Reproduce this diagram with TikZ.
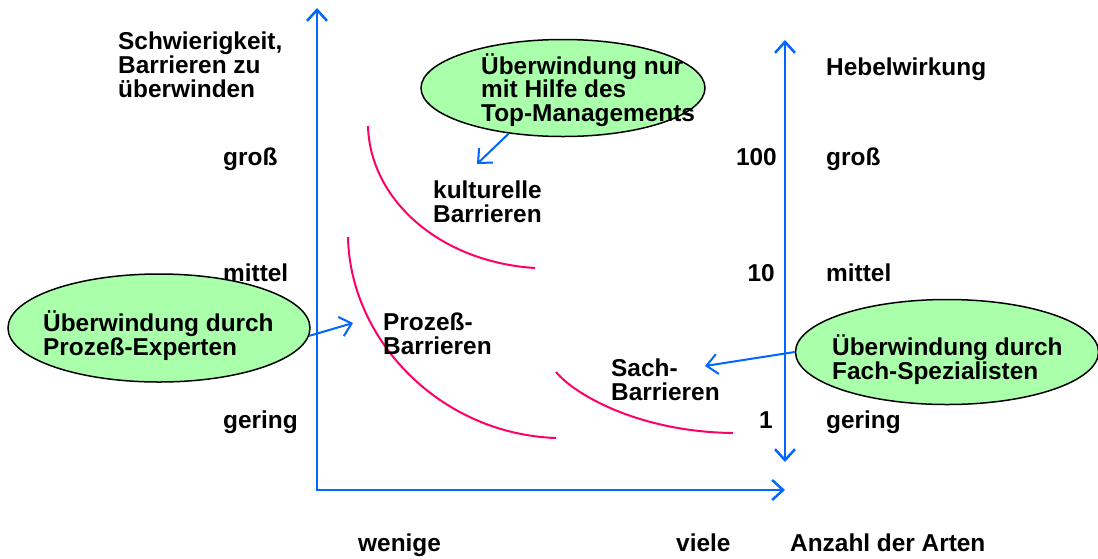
\documentclass[tikz,border=0pt]{standalone}
\usepackage{fontspec}
\setmainfont{Liberation Sans}
\usetikzlibrary{arrows.meta,shapes.geometric}
\definecolor{achsblau}{RGB}{0,102,255}
\definecolor{barrot}{RGB}{255,0,102}
\definecolor{hellgruen}{RGB}{170,255,170}

\begin{document}
\begin{tikzpicture}[x=1pt, y=-1pt, >={Straight Barb[length=11pt,width=20pt]},
    font=\fontsize{24.4}{23.8}\selectfont\bfseries,
    txt/.style={inner sep=0pt, align=left, anchor=west},
    lab/.style={inner sep=0pt, anchor=west, text height=17.5pt, text depth=5pt, yshift=-2pt},
    zahl/.style={lab, anchor=east},
    blase/.style={ellipse, draw=black, line width=1.5pt, fill=hellgruen, inner sep=0pt},
    achse/.style={achsblau, line width=2.5pt},
    kurve/.style={barrot, line width=2pt},
    pfeil/.style={->, achsblau, line width=2pt}]
    \useasboundingbox (0,0) rectangle (1098,558);

    % Achsen
    \coordinate (yoben) at (317,8);
    \coordinate (ursprung) at (317,490);
    \coordinate (xrechts) at (785,490);
    \coordinate (roben) at (785,40);
    \coordinate (runten) at (785,462);
    \draw[achse, <->] (yoben) -- (ursprung) -- (xrechts);
    \draw[achse, <->] (roben) -- (runten);

    % Beschriftung links
    \node[txt] (schwer) at (118,65) {Schwierigkeit,\\Barrieren zu\\überwinden};
    \node[lab] (lgross) at (223,157) {groß};
    \node[lab] (lmittel) at (223,273) {mittel};
    \node[lab] (lgering) at (223,420) {gering};

    % Beschriftung rechts
    \node[lab] (hebel) at (826,67) {Hebelwirkung};
    \node[zahl] (w100) at (777,157) {100};
    \node[zahl] (w10) at (775,273) {10};
    \node[zahl] (w1) at (773,420) {1};
    \node[lab] (rgross) at (826,157) {groß};
    \node[lab] (rmittel) at (826,273) {mittel};
    \node[lab] (rgering) at (826,420) {gering};

    % Beschriftung unten
    \node[lab] (wenige) at (358,543) {wenige};
    \node[lab] (viele) at (676,543) {viele};
    \node[lab] (anzahl) at (790,543) {Anzahl der Arten};

    % Barrieren
    \draw[kurve] (368,126) .. controls (370,200) and (440,262) .. (535,268);
    \draw[kurve] (348,237) .. controls (350,340) and (440,434) .. (556,438);
    \draw[kurve] (556,372) .. controls (575,395) and (640,432) .. (733,433);
    \node[txt] (kultur) at (433,202) {kulturelle\\Barrieren};
    \node[txt] (prozess) at (383,334) {Prozeß-\\Barrieren};
    \node[txt] (sach) at (611,380) {Sach-\\Barrieren};

    % Ellipsen
    \node[blase, minimum width=284, minimum height=97] (etop) at (563,88) {};
    \node[txt] (ttop) at (481,90) {Überwindung nur\\mit Hilfe des\\Top-Managements};
    \node[blase, minimum width=302, minimum height=108] (elinks) at (159,328) {};
    \node[txt] (tlinks) at (43,336) {Überwindung durch\\Prozeß-Experten};
    \node[blase, minimum width=303, minimum height=105] (erechts) at (947,352) {};
    \node[txt] (trechts) at (832,360) {Überwindung durch\\Fach-Spezialisten};

    % Pfeile
    \coordinate (zkultur) at (477,164);
    \coordinate (zprozess) at (353,323);
    \coordinate (zsach) at (705,366);
    \draw[pfeil] (etop.220) -- (zkultur);
    \draw[pfeil] (elinks.-3) -- (zprozess);
    \draw[pfeil] (erechts.west) -- (zsach);
\end{tikzpicture}
\end{document}
